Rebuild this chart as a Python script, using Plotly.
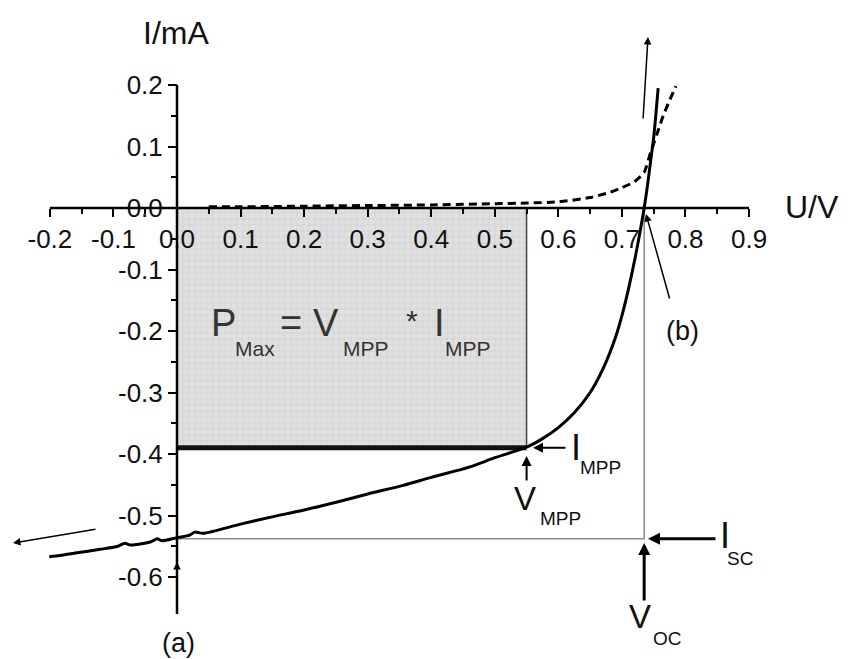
import plotly.graph_objects as go

# ---------------- data ----------------
U_LIGHT = [-0.201, -0.184, -0.160, -0.121, -0.093, -0.082, -0.074, -0.042, -0.031, -0.024,
           0.0, 0.020, 0.028, 0.041, 0.10, 0.146, 0.20, 0.252, 0.30, 0.356, 0.40, 0.461,
           0.50, 0.55, 0.575, 0.60, 0.625, 0.65, 0.67, 0.69, 0.70, 0.71, 0.72, 0.73,
           0.735, 0.74, 0.745, 0.75, 0.757]
I_LIGHT = [-0.567, -0.565, -0.561, -0.555, -0.550, -0.545, -0.548, -0.543, -0.538, -0.541,
           -0.536, -0.532, -0.527, -0.529, -0.514, -0.503, -0.491, -0.478, -0.465, -0.451,
           -0.438, -0.421, -0.406, -0.389, -0.375, -0.357, -0.333, -0.300, -0.262, -0.210,
           -0.175, -0.133, -0.085, -0.030, 0.0, 0.035, 0.075, 0.115, 0.195]

U_DARK = [0.05, 0.10, 0.20, 0.30, 0.40, 0.50, 0.55, 0.60, 0.65, 0.68, 0.70, 0.72, 0.735,
          0.745, 0.755, 0.765, 0.775, 0.785]
I_DARK = [0.002, 0.002, 0.003, 0.004, 0.005, 0.007, 0.008, 0.010, 0.017, 0.025, 0.033,
          0.043, 0.058, 0.090, 0.120, 0.150, 0.175, 0.198]

VMPP = 0.55
IMPP = -0.39
VOC = 0.735
ISC = -0.538

XTICKS = [-0.2, -0.1, 0.0, 0.1, 0.2, 0.3, 0.4, 0.5, 0.6, 0.7, 0.8, 0.9]
XMINOR = [-0.15, -0.05, 0.05, 0.15, 0.25, 0.35, 0.45, 0.55, 0.65, 0.75, 0.85]
YTICKS = [0.2, 0.1, 0.0, -0.1, -0.2, -0.3, -0.4, -0.5, -0.6]
YMINOR = [0.15, 0.05, -0.05, -0.15, -0.25, -0.35, -0.45, -0.55]
Y_AXIS_END = -0.66

# ---------------- geometry (axis calibration) ----------------
W, H = 851, 659
X0_PX, XSCALE = 177.0, 635.6     # pixel of U=0, pixels per volt
Y0_PX, YSCALE = 208.0, 615.0     # pixel of I=0, pixels per mA
X_RANGE = [(0 - X0_PX) / XSCALE, (W - X0_PX) / XSCALE]
Y_RANGE = [(Y0_PX - H) / YSCALE, Y0_PX / YSCALE]


def pu(px):
    return (px - X0_PX) / XSCALE


def pi(py):
    return (Y0_PX - py) / YSCALE


FONT = "Liberation Sans, Arial, sans-serif"

fig = go.Figure()

# shaded power rectangle
fig.add_trace(go.Scatter(
    x=[0, VMPP, VMPP, 0, 0], y=[0, 0, IMPP, IMPP, 0], mode="lines",
    fill="toself", fillcolor="#dadada",
    fillpattern=dict(shape="+", bgcolor="#e0e0e0", fgcolor="#c6c6c6", size=6, solidity=0.25),
    line=dict(width=0), hoverinfo="skip"))
# right edge of rectangle
fig.add_trace(go.Scatter(x=[VMPP, VMPP], y=[0, IMPP], mode="lines",
                         line=dict(color="#444444", width=1.5), hoverinfo="skip"))
# Isc / Voc guide lines
fig.add_trace(go.Scatter(x=[0, VOC, VOC], y=[ISC, ISC, 0], mode="lines",
                         line=dict(color="#8a8a8a", width=1.5), hoverinfo="skip"))
# IMPP thick line
fig.add_trace(go.Scatter(x=[0, VMPP], y=[IMPP, IMPP], mode="lines",
                         line=dict(color="#111111", width=5), hoverinfo="skip"))
# dark curve (dashed)
fig.add_trace(go.Scatter(x=U_DARK, y=I_DARK, mode="lines",
                         line=dict(color="black", width=3, dash="8px,5px", shape="spline", smoothing=0.6),
                         hoverinfo="skip"))
# illuminated curve
fig.add_trace(go.Scatter(x=U_LIGHT, y=I_LIGHT, mode="lines",
                         line=dict(color="black", width=3, shape="spline", smoothing=0.8),
                         hoverinfo="skip"))

# axis lines (limited to tick span)
fig.add_shape(type="line", x0=XTICKS[0], x1=XTICKS[-1], y0=0, y1=0,
              line=dict(color="black", width=2.5), layer="above")
fig.add_shape(type="line", x0=0, x1=0, y0=YTICKS[0], y1=Y_AXIS_END,
              line=dict(color="black", width=2.5), layer="above")

xpos = (0 - Y_RANGE[0]) / (Y_RANGE[1] - Y_RANGE[0])
ypos = (0 - X_RANGE[0]) / (X_RANGE[1] - X_RANGE[0])

fig.update_layout(
    width=W, height=H, margin=dict(l=0, r=0, t=0, b=0),
    plot_bgcolor="white", paper_bgcolor="white", showlegend=False,
    font=dict(family=FONT, color="black"),
    xaxis=dict(range=X_RANGE, domain=[0, 1], anchor="free", position=xpos,
               showgrid=False, zeroline=False, showline=False, automargin=False,
               tickmode="array", tickvals=XTICKS, ticktext=[f"{v:.1f}" for v in XTICKS],
               ticks="outside", ticklen=8, tickwidth=2, tickcolor="black",
               tickfont=dict(size=26, family=FONT, color="#111111"),
               minor=dict(tickvals=XMINOR, ticks="outside", ticklen=5, tickwidth=1.5, tickcolor="black")),
    yaxis=dict(range=Y_RANGE, domain=[0, 1], anchor="free", position=ypos,
               showgrid=False, zeroline=False, showline=False, automargin=False,
               tickmode="array", tickvals=YTICKS, ticktext=[f"{v:.1f}" for v in YTICKS],
               ticks="outside", ticklen=9, tickwidth=2, tickcolor="black",
               tickfont=dict(size=26, family=FONT, color="#111111"),
               minor=dict(tickvals=YMINOR, ticks="outside", ticklen=6, tickwidth=1.5, tickcolor="black")),
)


def arrow(hx, hy, tx, ty, width=1.5, size=1.0, head=2):
    fig.add_annotation(x=hx, y=hy, ax=tx, ay=ty, xref="x", yref="y", axref="x", ayref="y",
                       text="", showarrow=True, arrowhead=head, arrowsize=size,
                       arrowwidth=width, arrowcolor="black")


def label(txt, px, py, size, anchor="left", color="#111111"):
    fig.add_annotation(x=pu(px), y=pi(py), xref="x", yref="y", text=txt, showarrow=False,
                       xanchor=anchor, yanchor="middle",
                       font=dict(size=size, family=FONT, color=color))


# arrows
arrow(pu(648), pi(37), pu(643), pi(120))             # upward (dark current direction)
arrow(pu(13), pi(543), pu(97), pi(529))              # leftward (reverse bias)
arrow(0, pi(562), 0, pi(577))                        # small up arrow at (a)
arrow(pu(646), pi(214), pu(670), pi(300))            # (b) pointer
arrow(pu(533), IMPP, pu(567), IMPP, width=2)         # I_MPP
arrow(VMPP, pi(456), VMPP, pi(482), width=2)         # V_MPP
arrow(VOC, pi(543), VOC, pi(602), width=3, size=0.8)  # V_OC
arrow(pu(648), ISC, pu(717), ISC, width=3, size=0.8)  # I_SC

# texts
label("I/mA", 176, 33, 32, anchor="center")
label("U/V", 812, 207, 32, anchor="center")
label("(a)", 178, 643, 27, anchor="center")
label("(b)", 682, 331, 27, anchor="center")

label("P", 209, 323, 38, color="#333333")
label("Max", 233, 348, 21, color="#333333")
label("=", 278, 323, 38, color="#333333")
label("V", 311, 323, 38, color="#333333")
label("MPP", 341, 348, 21, color="#333333")
label("*", 404, 320, 30, color="#333333")
label("I", 432, 323, 38, color="#333333")
label("MPP", 443, 348, 21, color="#333333")

label("I", 569, 447, 36)
label("MPP", 578, 467, 19)
label("V", 512, 498, 33)
label("MPP", 538, 518, 19)
label("V", 627, 616, 33)
label("OC", 651, 638, 19)
label("I", 718, 535, 36)
label("SC", 725, 558, 19)

fig.write_html("out.html")
